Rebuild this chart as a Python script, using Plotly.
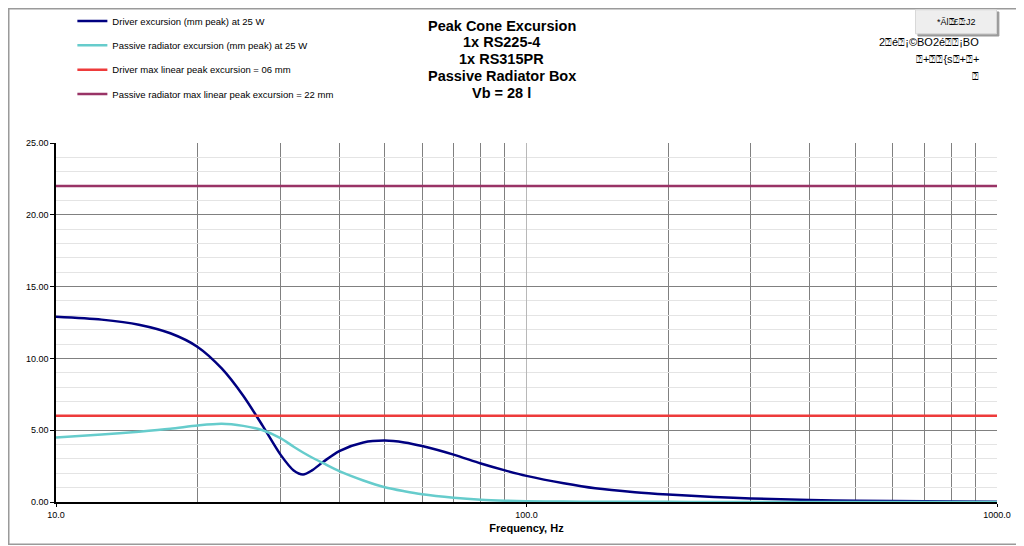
import plotly.graph_objects as go

# frequencies (Hz) and cone excursion (mm peak)
freq = [10, 12.5, 15, 17.5, 20, 22.5, 25, 27.5, 30, 32, 33.5, 35, 37, 40, 45, 50, 55, 60,
        70, 80, 90, 100, 120, 140, 170, 200, 250, 300, 400, 500, 700, 1000]
driver_mm = [12.9, 12.7, 12.35, 11.75, 10.8, 9.3, 7.4, 5.3, 3.3, 2.2, 1.92, 2.2, 2.8, 3.55,
             4.15, 4.28, 4.15, 3.9, 3.3, 2.68, 2.2, 1.82, 1.3, 0.95, 0.68, 0.52, 0.35, 0.25,
             0.14, 0.09, 0.05, 0.02]
passive_mm = [4.5, 4.7, 4.9, 5.1, 5.33, 5.45, 5.3, 5.0, 4.45, 3.85, 3.45, 3.1, 2.7, 2.15,
              1.5, 1.03, 0.75, 0.54, 0.3, 0.16, 0.09, 0.05, 0.03, 0.02, 0.01, 0.01, 0.005,
              0.005, 0.004, 0.003, 0.003, 0.002]
limit_freq = [10, 1000]
driver_xmax = [6, 6]
passive_xmax = [22, 22]

names = ["Driver excursion (mm peak) at 25 W",
         "Passive radiator excursion (mm peak) at 25 W",
         "Driver max linear peak excursion = 06 mm",
         "Passive radiator max linear peak excursion = 22 mm"]

title_lines = ["Peak Cone Excursion", "1x RS225-4", "1x RS315PR", "Passive Radiator Box", "Vb = 28 l"]
garbled_lines = ["2⍰é⍰¡©BO2é⍰⍰¡BO", "⍰+⍰⍰{s⍰+⍰+", "⍰"]
button_text = "*Ãl⍰£⍰:J2"

FONT = "Liberation Sans, Arial, sans-serif"

fig = go.Figure()
fig.add_trace(go.Scatter(x=freq, y=driver_mm, name=names[0], mode="lines", legendgroup="a",
                         line=dict(color="#000080", width=2.5, shape="spline", smoothing=0.8)))
fig.add_trace(go.Scatter(x=freq, y=passive_mm, name=names[1], mode="lines", legendgroup="b",
                         line=dict(color="#66cccc", width=2.5, shape="spline", smoothing=0.8)))
fig.add_trace(go.Scatter(x=limit_freq, y=driver_xmax, name=names[2], mode="lines", legendgroup="c",
                         line=dict(color="#ee3b3b", width=2.5)))
fig.add_trace(go.Scatter(x=limit_freq, y=passive_xmax, name=names[3], mode="lines", legendgroup="d",
                         line=dict(color="#993366", width=2.5)))

# title block, one line at a time
title_y = [1.3262, 1.2802, 1.2328, 1.1854, 1.138]
for t, yy in zip(title_lines, title_y):
    fig.add_annotation(text="<b>" + t + "</b>", xref="paper", yref="paper",
                       x=0.4737, y=yy, xanchor="center", yanchor="middle", showarrow=False,
                       font=dict(family=FONT, size=14.5, color="#000000"))

# garbled text on the right
for i, t in enumerate(garbled_lines):
    fig.add_annotation(text=t, xref="paper", yref="paper", x=0.9825, y=1.2816 - i * 0.0474,
                       xanchor="right", yanchor="middle", showarrow=False,
                       font=dict(family=FONT, size=11, color="#000000"))

# button-like box
fig.add_shape(type="rect", xref="paper", yref="paper", x0=0.9160, x1=1.0020, y0=1.298, y1=1.365,
              line=dict(color="#9a9a9a", width=1), fillcolor="#9a9a9a")
fig.add_shape(type="rect", xref="paper", yref="paper", x0=0.9134, x1=0.9995, y0=1.304, y1=1.371,
              line=dict(color="#d8d8d8", width=1), fillcolor="#eeeeee")
fig.add_annotation(text=button_text, xref="paper", yref="paper", x=0.9565, y=1.3375,
                   xanchor="center", yanchor="middle", showarrow=False,
                   font=dict(family=FONT, size=9, color="#000000"))

# outer chart frame
fig.add_shape(type="rect", xref="paper", yref="paper", x0=-0.0502, x1=1.0249, y0=-0.118, y1=1.3743,
              line=dict(color="#9a9a9a", width=1.5), fillcolor="rgba(0,0,0,0)", layer="below")

# page body has an 8 px margin, so the figure is a bit smaller than the window
fig.update_layout(
    width=1016, height=538,
    margin=dict(l=48, r=26.5, t=135, b=44.3, autoexpand=False),
    paper_bgcolor="white", plot_bgcolor="white",
    font=dict(family=FONT, size=9, color="#000000"),
    showlegend=True,
    legend=dict(x=0.0174, y=1.3805, xanchor="left", yanchor="top", tracegroupgap=5.4,
                font=dict(family=FONT, size=9.5), bgcolor="rgba(0,0,0,0)"),
    xaxis=dict(type="log", range=[1, 3], tickvals=[10, 100, 1000],
               ticktext=["10.0", "100.0", "1000.0"],
               showgrid=True, gridcolor="#b8b8b8", gridwidth=1,
               minor=dict(tickvals=[20, 30, 40, 50, 60, 70, 80, 90, 200, 300, 400, 500, 600,
                                    700, 800, 900], showgrid=True, gridcolor="#808080",
                          gridwidth=1, ticks=""),
               showline=True, linecolor="#000000", linewidth=1.5,
               ticks="outside", ticklen=3, tickcolor="#000000",
               zeroline=False,
               title=dict(text="<b>Frequency, Hz</b>", font=dict(family=FONT, size=11), standoff=6)),
    yaxis=dict(range=[0, 25], dtick=5, tickformat=".2f",
               showgrid=True, gridcolor="#808080", gridwidth=1,
               minor=dict(dtick=1, showgrid=True, gridcolor="#e4e4e4", gridwidth=1, ticks=""),
               showline=True, linecolor="#000000", linewidth=1.5,
               ticks="outside", ticklen=4, tickcolor="#000000",
               zeroline=False),
)

fig.write_html("out.html")
